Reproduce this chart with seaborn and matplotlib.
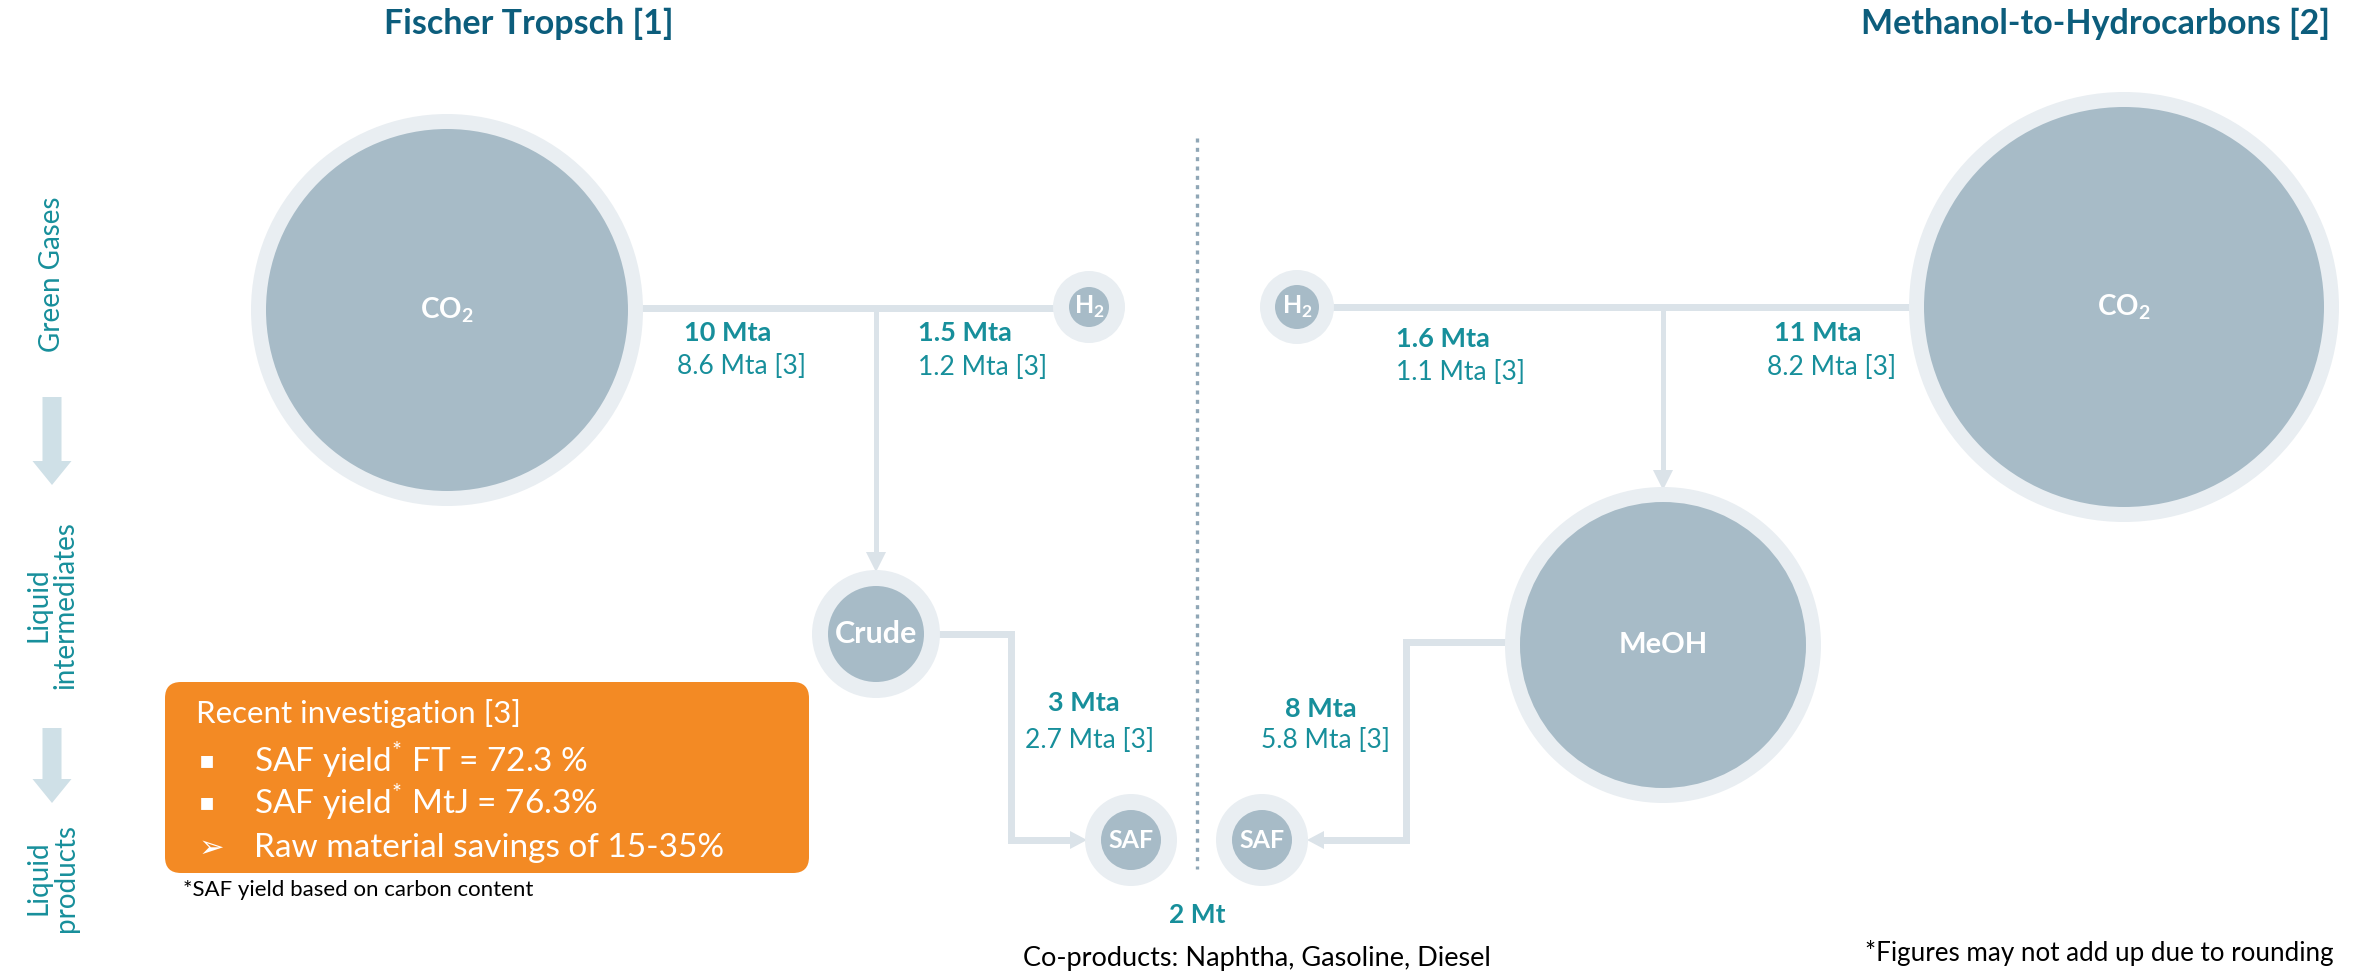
import matplotlib
matplotlib.use("Agg")
import numpy as np
import pandas as pd
import seaborn as sns
import matplotlib.pyplot as plt
from matplotlib.patches import FancyBboxPatch, FancyArrow, Polygon

# node data
node_names = ['CO2_ft', 'H2_ft', 'Crude', 'SAF_ft', 'H2_mth', 'CO2_mth', 'MeOH', 'SAF_mth']
node_labels = [r'CO$_\mathregular{2}$', r'H$_\mathregular{2}$', 'Crude', 'SAF',
               r'H$_\mathregular{2}$', r'CO$_\mathregular{2}$', 'MeOH', 'SAF']

# flow labels (original / recent investigation [3])
flow_main = ['10 Mta', '1.5 Mta', '3 Mta', '1.6 Mta', '11 Mta', '8 Mta']
flow_recent = ['8.6 Mta [3]', '1.2 Mta [3]', '2.7 Mta [3]', '1.1 Mta [3]', '8.2 Mta [3]', '5.8 Mta [3]']

box_lines = ['SAF yield$^\\mathregular{*}$ FT = 72.3 %', 'SAF yield$^\\mathregular{*}$ MtJ = 76.3%',
             'Raw material savings of 15-35%']
box_marks = ['▪', '▪', '➢']
stage_labels = ['Green Gases', 'Liquid\nintermediates', 'Liquid\nproducts']

# layout (pixel coordinates)
node_x = [447, 1089, 876, 1131, 1297, 2124, 1663, 1262]
node_y = [310, 307, 634, 840, 307, 307, 645, 840]
ring_r = [196, 36, 64, 46, 37, 215, 158, 46]
core_r = [181, 20, 48, 30, 22, 200, 143, 30]
label_size = [20, 18, 22, 18, 18, 20, 21, 18]
flow_pos = [(684, 333), (918, 333), (1048, 703), (1396, 339), (1774, 333), (1285, 709)]
recent_pos = [(677, 366), (918, 367), (1025, 740), (1396, 372), (1767, 367), (1261, 740)]

W, H, DPI = 2353, 972, 100
sns.set_theme(style='white')
plt.rcParams['font.family'] = ['Lato', 'DejaVu Sans']

teal = '#178f9b'
dark = '#0c5d7c'
ring_c = '#e9eef2'
core_c = '#a7bbc7'
line_c = '#dbe3e9'
orange = '#f38a24'

fig = plt.figure(figsize=(W / DPI, H / DPI), dpi=DPI)
ax = fig.add_axes([0, 0, 1, 1])
ax.set_xlim(0, W)
ax.set_ylim(H, 0)
ax.axis('off')

nodes = pd.DataFrame({'name': node_names, 'x': node_x, 'y': node_y,
                      'ring': ring_r, 'core': core_r})
px2pt = 72 / DPI

# connectors
lw = 7 * px2pt
ax.plot([640, 1060], [308, 308], color=line_c, lw=lw, zorder=1, solid_capstyle='butt')
ax.plot([876, 876], [308, 555], color=line_c, lw=5 * px2pt, zorder=1, solid_capstyle='butt')
ax.add_patch(Polygon([[866, 552], [886, 552], [876, 572]], closed=True, color=line_c, lw=0, zorder=1))
ax.plot([938, 1011, 1011, 1072], [634, 634, 840, 840], color=line_c, lw=lw, zorder=1,
        solid_joinstyle='miter', solid_capstyle='butt')
ax.add_patch(Polygon([[1070, 831], [1070, 849], [1087, 840]], closed=True, color=line_c, lw=0, zorder=1))

ax.plot([1330, 1915], [307, 307], color=line_c, lw=lw, zorder=1, solid_capstyle='butt')
ax.plot([1663, 1663], [307, 472], color=line_c, lw=5 * px2pt, zorder=1, solid_capstyle='butt')
ax.add_patch(Polygon([[1653, 470], [1673, 470], [1663, 490]], closed=True, color=line_c, lw=0, zorder=1))
ax.plot([1508, 1406, 1406, 1322], [642, 642, 840, 840], color=line_c, lw=lw, zorder=1,
        solid_joinstyle='miter', solid_capstyle='butt')
ax.add_patch(Polygon([[1324, 831], [1324, 849], [1307, 840]], closed=True, color=line_c, lw=0, zorder=1))

# divider
ax.plot([1197, 1197], [138, 869], color='#8fa6b6', lw=2.4, ls=(0, (1.2, 1.6)), zorder=1)

# nodes: outer ring then core, marker size from pixel radius
for col, c in [('ring', ring_c), ('core', core_c)]:
    sns.scatterplot(data=nodes, x='x', y='y', s=(2 * nodes[col] * px2pt) ** 2,
                    color=c, linewidth=0, ax=ax, zorder=2, legend=False)
ax.set_xlim(0, W)
ax.set_ylim(H, 0)
ax.set_xlabel('')
ax.set_ylabel('')

for lab, x, y, fs in zip(node_labels, node_x, node_y, label_size):
    ax.text(x, y, lab, color='white', fontsize=fs, fontweight='bold',
            ha='center', va='center', zorder=3)

# flow labels
for t, (x, y) in zip(flow_main, flow_pos):
    ax.text(x, y, t, color=teal, fontsize=19.5, fontweight='bold', ha='left', va='center')
for t, (x, y) in zip(flow_recent, recent_pos):
    ax.text(x, y, t, color=teal, fontsize=19, ha='left', va='center')

ax.text(1197, 915, '2 Mt', color=teal, fontsize=19, fontweight='bold', ha='center', va='center')
ax.text(1257, 958, 'Co-products: Naphtha, Gasoline, Diesel', color='black', fontsize=19.5,
        ha='center', va='center')
ax.text(2334, 953, '*Figures may not add up due to rounding', color='black', fontsize=18.7,
        ha='right', va='center')

# titles
ax.text(529, 24, 'Fischer Tropsch [1]', color=dark, fontsize=24.5, fontweight='bold',
        ha='center', va='center')
ax.text(2330, 24, 'Methanol-to-Hydrocarbons [2]', color=dark, fontsize=24.5, fontweight='bold',
        ha='right', va='center')

# stage labels and arrows on the left
stage_y = [274, 605, 878]
for t, y in zip(stage_labels, stage_y):
    ax.text(52, y, t, color=teal, fontsize=20, rotation=90, ha='center', va='center',
            linespacing=1.05, multialignment='center')
for y0, y1 in [(397, 485), (728, 803)]:
    ax.add_patch(FancyArrow(52, y0, 0, y1 - y0, width=19, head_width=39, head_length=24,
                            length_includes_head=True, color='#cfe0e7', lw=0))

# orange box
ax.add_patch(FancyBboxPatch((165, 682), 644, 191, boxstyle='round,pad=0,rounding_size=16',
                            fc=orange, ec='none', zorder=2))
ax.text(196, 713, 'Recent investigation [3]', color='white', fontsize=22.5, ha='left',
        va='center', zorder=3)
for i, (m, t) in enumerate(zip(box_marks, box_lines)):
    y = [760, 802, 848][i]
    ax.text(199, y, m, color='white', fontsize=17 if m == '▪' else 22, ha='left', va='center',
            zorder=3, family=['DejaVu Sans'])
    ax.text(254, y, t, color='white', fontsize=24, ha='left', va='center', zorder=3)
ax.text(183, 890, '*SAF yield based on carbon content', color='black', fontsize=16,
        ha='left', va='center')

fig.savefig('out.png', dpi=DPI)
